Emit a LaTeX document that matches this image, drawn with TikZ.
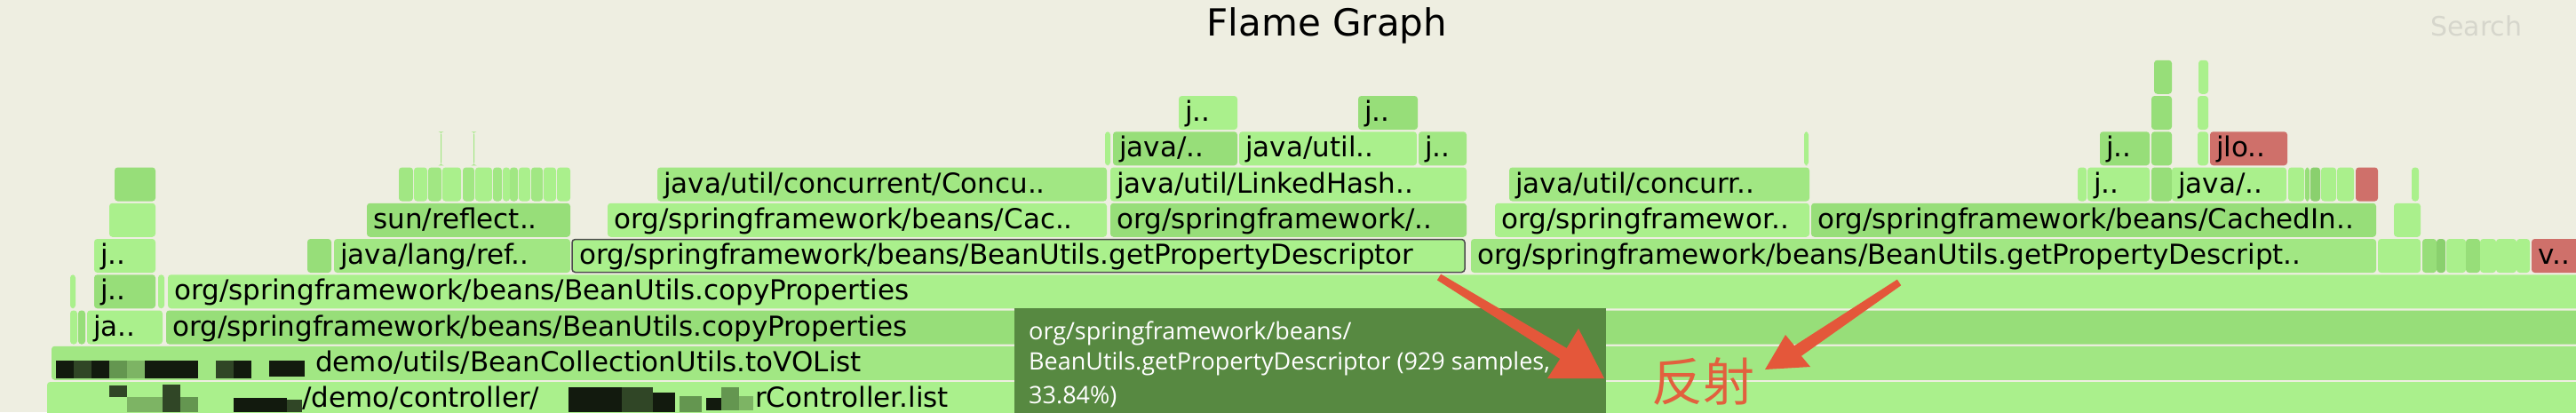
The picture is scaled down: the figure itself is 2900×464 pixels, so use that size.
\documentclass[tikz,border=0pt]{standalone}
\usepackage{fontspec}
\setmainfont{DejaVu Sans}
\newfontfamily\tipfont{Open Sans}
\newfontfamily\cjkfont{Noto Sans CJK SC}
\definecolor{bg}{RGB}{238,238,225}
\definecolor{gL}{RGB}{170,240,140}
\definecolor{gM}{RGB}{161,231,131}
\definecolor{gD}{RGB}{151,222,121}
\definecolor{gX}{RGB}{138,208,110}
\definecolor{rd}{RGB}{207,112,106}
\definecolor{tipc}{RGB}{87,137,65}
\definecolor{arr}{RGB}{228,87,58}
\definecolor{cjkc}{RGB}{226,96,62}
\definecolor{srch}{RGB}{214,214,204}
\definecolor{mosA}{RGB}{18,26,14}
\definecolor{mosB}{RGB}{48,70,38}
\definecolor{mosC}{RGB}{100,150,80}
\definecolor{mosE}{RGB}{125,180,100}
\tikzset{
  fb/.style={rectangle, rounded corners=3.5pt, inner sep=0pt, minimum height=38pt, draw=none},
  lab/.style={inner sep=0pt, font=\fontsize{31}{37}\selectfont, text=black},
  hot/.style={draw=black!70, line width=1.5pt},
  tiptext/.style={inner sep=0pt, font=\tipfont\fontsize{27}{33}\selectfont, text=white},
  arrowfill/.style={fill=arr, draw=none},
}
\newcommand\fb[5]{\node[fb, fill=#5, minimum width={#3-#2-1}] (#1) at ({(#2+#3-1)/2},{449-40.25*(#4)}) {};}
\newcommand\ft[6]{\fb{#1}{#2}{#3}{#4}{#5}\node[lab, anchor=base west] (#1t) at ({#2+7},{449-40.25*(#4)+9.5}) {#6};}
\newcommand\mo[5]{\fill[#5] (#1,#2) rectangle (#3,#4);}
\begin{document}
\begin{tikzpicture}[x=1pt,y=-1pt]
\path[use as bounding box, fill=bg] (0,0) rectangle (2900,464);
\clip (0,0) rectangle (2900,464);
% title and search
\node[inner sep=0pt, anchor=base, font=\fontsize{42}{50}\selectfont] (title) at (1494,40) {Flame Graph};
\node[inner sep=0pt, anchor=base west, font=\fontsize{30}{36}\selectfont, text=srch] (search) at (2736,40) {Search};
% row 0
\fb{r0a}{53}{2905}{0}{gL}
% row 1
\fb{r1a}{58}{2905}{1}{gM}
% row 2
\fb{r2a}{79}{88}{2}{gL}
\fb{r2b}{88}{97}{2}{gD}
\ft{r2c}{98}{184}{2}{gL}{ja..}
\ft{r2d}{187}{2905}{2}{gD}{org/springframework/beans/BeanUtils.copyProperties}
% row 3
\fb{r3a}{79}{86}{3}{gL}
\ft{r3b}{106}{176}{3}{gD}{j..}
\fb{r3c}{178}{186}{3}{gL}
\ft{r3d}{189}{2905}{3}{gL}{org/springframework/beans/BeanUtils.copyProperties}
% row 4
\ft{r4a}{106}{176}{4}{gL}{j..}
\fb{r4b}{346}{374}{4}{gD}
\ft{r4c}{376}{643}{4}{gM}{java/lang/ref..}
\node[fb, hot, fill=gL, minimum width=1005, minimum height=37] (r4d) at ({644+1005/2},{449-40.25*4}) {};
\node[lab, anchor=base west] (r4dt) at (652,{449-40.25*4+9.5}) {org/springframework/beans/BeanUtils.getPropertyDescriptor};
\ft{r4e}{1656}{2676}{4}{gM}{org/springframework/beans/BeanUtils.getPropertyDescript..}
\fb{r4f}{2677}{2726}{4}{gL}
\fb{r4g}{2727}{2744}{4}{gD}
\fb{r4h}{2743}{2754}{4}{gX}
\fb{r4i}{2754}{2777}{4}{gL}
\fb{r4j}{2776}{2793}{4}{gD}
\fb{r4k}{2792}{2811}{4}{gL}
\fb{r4l}{2810}{2834}{4}{gL}
\fb{r4m}{2833}{2849}{4}{gL}
\ft{r4n}{2850}{2920}{4}{rd}{v..}
% row 5
\fb{r5a}{123}{176}{5}{gL}
\ft{r5b}{413}{643}{5}{gD}{sun/reflect..}
\ft{r5c}{684}{1247}{5}{gL}{org/springframework/beans/Cac..}
\ft{r5d}{1250}{1652}{5}{gD}{org/springframework/..}
\ft{r5e}{1683}{2038}{5}{gL}{org/springframewor..}
\ft{r5f}{2039}{2676}{5}{gD}{org/springframework/beans/CachedIn..}
\fb{r5g}{2695}{2726}{5}{gL}
% row 6
\fb{r6a}{129}{176}{6}{gD}
\fb{r6s1}{449}{466}{6}{gM}
\fb{r6s2}{466}{482}{6}{gL}
\fb{r6s3}{482}{498}{6}{gM}
\fb{r6s4}{498}{520}{6}{gL}
\fb{r6s5}{521}{535}{6}{gM}
\fb{r6s6}{535}{555}{6}{gL}
\fb{r6s7}{555}{566}{6}{gM}
\fb{r6s8}{566}{575}{6}{gL}
\fb{r6s9}{574}{584}{6}{gM}
\fb{r6s10}{584}{598}{6}{gL}
\fb{r6s11}{598}{612}{6}{gM}
\fb{r6s12}{612}{627}{6}{gL}
\fb{r6s13}{627}{643}{6}{gL}
\ft{r6b}{740}{1247}{6}{gM}{java/util/concurrent/Concu..}
\ft{r6c}{1250}{1652}{6}{gL}{java/util/LinkedHash..}
\ft{r6d}{1699}{2038}{6}{gM}{java/util/concurr..}
\fb{r6e}{2339}{2350}{6}{gL}
\ft{r6f}{2350}{2421}{6}{gL}{j..}
\fb{r6g}{2422}{2446}{6}{gD}
\ft{r6h}{2445}{2575}{6}{gL}{java/..}
\fb{r6i}{2576}{2595}{6}{gL}
\fb{r6j}{2595}{2601}{6}{gD}
\fb{r6k}{2601}{2613}{6}{gX}
\fb{r6l}{2613}{2631}{6}{gL}
\fb{r6m}{2631}{2651}{6}{gL}
\fb{r6n}{2652}{2678}{6}{rd}
\fb{r6o}{2715}{2724}{6}{gL}
% row 7
\fb{r7a}{496}{498}{7}{gM}
\fb{r7b}{533}{535}{7}{gM}
\fb{r7c}{1244}{1251}{7}{gL}
\ft{r7d}{1253}{1394}{7}{gD}{java/..}
\ft{r7e}{1395}{1596}{7}{gL}{java/util..}
\ft{r7f}{1597}{1652}{7}{gM}{j..}
\fb{r7g}{2031}{2037}{7}{gL}
\ft{r7h}{2364}{2421}{7}{gD}{j..}
\fb{r7i}{2422}{2446}{7}{gD}
\fb{r7j}{2474}{2487}{7}{gL}
\ft{r7k}{2488}{2576}{7}{rd}{jlo..}
% row 8
\ft{r8a}{1327}{1394}{8}{gL}{j..}
\ft{r8b}{1529}{1597}{8}{gD}{j..}
\fb{r8c}{2422}{2446}{8}{gD}
\fb{r8d}{2474}{2487}{8}{gL}
% row 9
\fb{r9a}{2425}{2446}{9}{gD}
\fb{r9b}{2475}{2487}{9}{gL}
% row 1 text and mosaic
\node[lab, anchor=base west] (r1t) at (355,{449-40.25+9.5}) {demo/utils/BeanCollectionUtils.toVOList};
\mo{63}{406}{83}{426}{mosA}
\mo{83}{406}{103}{426}{mosB}
\mo{103}{406}{123}{426}{mosA}
\mo{123}{406}{143}{426}{mosC}
\mo{143}{406}{163}{426}{mosE}
\mo{163}{406}{223}{426}{mosA}
\mo{243}{406}{263}{426}{mosB}
\mo{263}{406}{283}{426}{mosA}
\mo{303}{406}{343}{424}{mosA}
% row 0 text and mosaic
\node[lab, anchor=base west] (r0t) at (340,{449+9.5}) {/demo/controller/};
\node[lab, anchor=base west] (r0u) at (850,{449+9.5}) {rController.list};
\mo{123}{434}{143}{447}{mosB}
\mo{143}{447}{183}{464}{mosE}
\mo{183}{433}{203}{464}{mosB}
\mo{203}{447}{223}{464}{mosC}
\mo{263}{448}{323}{464}{mosA}
\mo{323}{450}{340}{464}{mosB}
\mo{640}{436}{700}{464}{mosA}
\mo{700}{436}{735}{464}{mosB}
\mo{735}{442}{760}{464}{mosA}
\mo{765}{446}{790}{464}{mosC}
\mo{795}{448}{812}{462}{mosA}
\mo{812}{436}{832}{462}{mosC}
\mo{832}{446}{848}{462}{mosE}
% tooltip
\node[rectangle, fill=tipc, inner sep=0pt, anchor=north west, minimum width=666, minimum height=130] (tip) at (1142,347) {};
\begin{scope}
\clip (tip.north west) rectangle (tip.south east);
\node[tiptext, anchor=base west] (tip1) at (1158,382) {org/springframework/beans/};
\node[tiptext, anchor=base west] (tip2) at (1158,416) {BeanUtils.getPropertyDescriptor (929 samples,};
\node[tiptext, anchor=base west] (tip3) at (1158,454) {33.84\%)};
\end{scope}
% arrows
\coordinate (a1s1) at (1617.9,315.4);
\coordinate (a1s2) at (1622.1,308.6);
\coordinate (a1b2) at (1763.7,392.0);
\coordinate (a1b1) at (1756.3,404.0);
\coordinate (a1h1) at (1777,370);
\coordinate (a1tip) at (1806,426);
\coordinate (a1h2) at (1742,426);
\fill[arrowfill] (a1s2) -- (a1b2) -- (a1h1) -- (a1tip) -- (a1h2) -- (a1b1) -- (a1s1) -- cycle;
\coordinate (a2sA) at (2140.2,321.3);
\coordinate (a2sB) at (2135.8,314.7);
\coordinate (a2bA) at (2027.9,400.8);
\coordinate (a2bB) at (2020.1,389.2);
\coordinate (a2hB) at (2010,377);
\coordinate (a2tip) at (1987,416);
\coordinate (a2hA) at (2038,413);
\fill[arrowfill] (a2sB) -- (a2bB) -- (a2hB) -- (a2tip) -- (a2hA) -- (a2bA) -- (a2sA) -- cycle;
\node[inner sep=0pt, anchor=base west, font=\cjkfont\fontsize{58}{64}\selectfont, text=cjkc] (fanshe) at (1859,451) {反射};
\end{tikzpicture}
\end{document}
